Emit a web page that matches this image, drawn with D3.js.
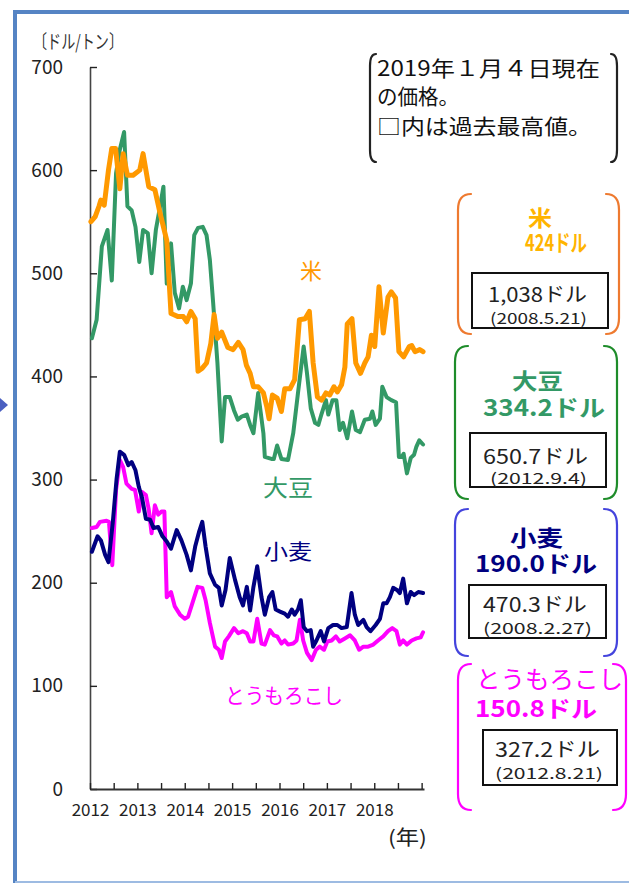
<!DOCTYPE html>
<html><head><meta charset="utf-8">
<script src="https://cdn.jsdelivr.net/npm/d3@7"></script>
<style>body{margin:0;background:#fff;overflow:hidden;} svg{display:block;}</style>
</head><body>
<svg id="c" width="629" height="883"></svg>
<script>
// ---------- data ----------
const yTicks = [0,100,200,300,400,500,600,700];
const xTickYears = [2012,2012.5,2013,2013.5,2014,2014.5,2015,2015.5,2016,2016.5,2017,2017.5,2018,2018.5,2019];
const xLabelYears = [2012,2013,2014,2015,2016,2017,2018];

const rice = [[2012.02,550],[2012.11,555],[2012.19,565],[2012.23,571],[2012.30,566],[2012.39,600],[2012.46,621],[2012.54,621],[2012.63,582],[2012.70,616],[2012.79,595],[2012.91,595],[2013.05,600],[2013.12,616],[2013.24,584],[2013.37,581],[2013.48,558],[2013.62,532],[2013.71,461],[2013.76,460],[2013.86,458],[2013.97,458],[2014.04,453],[2014.13,463],[2014.22,456],[2014.28,405],[2014.37,408],[2014.46,413],[2014.55,432],[2014.62,460],[2014.69,437],[2014.78,443],[2014.91,428],[2015.02,426],[2015.13,433],[2015.23,426],[2015.30,411],[2015.38,403],[2015.45,390],[2015.55,390],[2015.66,384],[2015.73,371],[2015.78,359],[2015.85,382],[2015.95,379],[2016.04,366],[2016.11,388],[2016.22,388],[2016.32,397],[2016.42,455],[2016.54,456],[2016.63,463],[2016.71,413],[2016.80,380],[2016.89,377],[2016.98,384],[2017.06,382],[2017.15,390],[2017.22,385],[2017.31,392],[2017.38,409],[2017.43,451],[2017.53,456],[2017.61,413],[2017.71,403],[2017.80,413],[2017.87,419],[2017.94,440],[2018.01,429],[2018.10,487],[2018.19,442],[2018.29,477],[2018.36,482],[2018.45,476],[2018.52,424],[2018.62,419],[2018.74,429],[2018.79,430],[2018.86,424],[2018.96,426],[2019.03,424]];

const soybean = [[2012.04,437],[2012.14,455],[2012.25,526],[2012.37,542],[2012.46,493],[2012.55,597],[2012.63,620],[2012.72,637],[2012.79,565],[2012.88,561],[2012.96,545],[2013.04,511],[2013.12,542],[2013.22,539],[2013.30,500],[2013.39,542],[2013.48,565],[2013.55,584],[2013.62,490],[2013.71,529],[2013.79,481],[2013.88,466],[2013.96,487],[2014.04,474],[2014.13,490],[2014.20,537],[2014.28,544],[2014.38,545],[2014.46,537],[2014.53,513],[2014.60,471],[2014.69,413],[2014.78,337],[2014.85,380],[2014.95,380],[2015.04,367],[2015.12,358],[2015.20,361],[2015.31,363],[2015.38,353],[2015.45,345],[2015.55,384],[2015.66,345],[2015.69,322],[2015.83,320],[2015.88,320],[2015.95,333],[2016.04,320],[2016.18,319],[2016.29,345],[2016.39,384],[2016.51,429],[2016.58,403],[2016.66,369],[2016.75,355],[2016.82,353],[2016.89,364],[2016.98,377],[2017.03,363],[2017.12,377],[2017.20,377],[2017.27,348],[2017.34,355],[2017.43,340],[2017.53,366],[2017.61,348],[2017.70,346],[2017.80,358],[2017.91,359],[2017.96,366],[2018.03,353],[2018.12,359],[2018.17,390],[2018.26,380],[2018.36,377],[2018.46,375],[2018.52,322],[2018.58,322],[2018.62,325],[2018.69,306],[2018.77,321],[2018.84,324],[2018.89,332],[2018.95,338],[2019.03,334]];

const wheat = [[2012.04,230],[2012.16,245],[2012.23,241],[2012.32,227],[2012.39,220],[2012.48,258],[2012.56,300],[2012.63,327],[2012.72,324],[2012.81,314],[2012.88,317],[2012.96,309],[2013.03,293],[2013.10,282],[2013.18,262],[2013.27,261],[2013.34,253],[2013.44,254],[2013.53,245],[2013.62,240],[2013.71,233],[2013.83,251],[2013.93,241],[2014.04,227],[2014.13,212],[2014.22,235],[2014.30,249],[2014.37,259],[2014.44,235],[2014.53,209],[2014.64,198],[2014.72,195],[2014.78,178],[2014.86,193],[2014.95,224],[2015.06,203],[2015.16,186],[2015.23,178],[2015.31,196],[2015.38,173],[2015.45,196],[2015.53,216],[2015.62,186],[2015.69,169],[2015.78,186],[2015.85,191],[2015.92,174],[2016.01,172],[2016.11,170],[2016.18,167],[2016.26,174],[2016.32,169],[2016.39,174],[2016.45,183],[2016.51,157],[2016.58,153],[2016.66,154],[2016.71,138],[2016.78,144],[2016.87,153],[2016.94,143],[2017.03,156],[2017.13,159],[2017.22,159],[2017.31,156],[2017.42,157],[2017.52,190],[2017.59,169],[2017.66,159],[2017.77,164],[2017.84,157],[2017.92,153],[2018.03,159],[2018.12,165],[2018.19,180],[2018.26,180],[2018.33,186],[2018.40,195],[2018.48,193],[2018.54,190],[2018.61,204],[2018.69,180],[2018.77,191],[2018.84,188],[2018.93,191],[2019.03,190]];

const corn = [[2012.04,253],[2012.14,254],[2012.21,259],[2012.35,260],[2012.40,259],[2012.47,217],[2012.55,290],[2012.63,319],[2012.70,312],[2012.77,296],[2012.88,291],[2012.95,290],[2013.03,269],[2013.10,288],[2013.18,285],[2013.24,271],[2013.30,248],[2013.37,275],[2013.44,266],[2013.51,269],[2013.57,269],[2013.62,186],[2013.71,191],[2013.79,177],[2013.90,169],[2014.00,165],[2014.07,167],[2014.16,180],[2014.27,196],[2014.37,195],[2014.44,183],[2014.53,161],[2014.64,138],[2014.72,135],[2014.78,127],[2014.85,143],[2014.93,148],[2015.04,156],[2015.13,151],[2015.23,153],[2015.31,151],[2015.38,143],[2015.45,143],[2015.53,165],[2015.62,141],[2015.69,140],[2015.80,154],[2015.88,149],[2015.95,148],[2016.04,141],[2016.11,144],[2016.18,140],[2016.29,141],[2016.36,144],[2016.43,164],[2016.50,144],[2016.58,132],[2016.68,125],[2016.77,135],[2016.85,138],[2016.94,135],[2017.01,143],[2017.10,144],[2017.19,148],[2017.27,143],[2017.38,146],[2017.49,149],[2017.59,144],[2017.68,135],[2017.77,138],[2017.87,138],[2017.98,140],[2018.08,144],[2018.19,148],[2018.29,153],[2018.38,156],[2018.47,153],[2018.54,140],[2018.61,144],[2018.69,140],[2018.79,144],[2018.89,146],[2018.98,147],[2019.03,152]];

const noteLines = ["2019年１月４日現在","の価格。","□内は過去最高値。"];
const crops = ["米","大豆","小麦","とうもろこし"];
const currentPrices = ["424ドル","334.2ドル","190.0ドル","150.8ドル"];
const recordPrices = ["1,038ドル","650.7ドル","470.3ドル","327.2ドル"];
const recordDates = ["(2008.5.21)","(2012.9.4)","(2008.2.27)","(2012.8.21)"];

// ---------- drawing ----------
const FONT = "'Noto Sans CJK JP','Noto Sans',sans-serif";
const svg = d3.select("#c");

// page frame
svg.append("line").attr("x1",15).attr("y1",12).attr("x2",629).attr("y2",12).attr("stroke","#5584C4").attr("stroke-width",4);
svg.append("line").attr("x1",15).attr("y1",10).attr("x2",15).attr("y2",883).attr("stroke","#5584C4").attr("stroke-width",4);
svg.append("line").attr("x1",15).attr("y1",882).attr("x2",629).attr("y2",882).attr("stroke","#9DBBE2").attr("stroke-width",2);
svg.append("path").attr("d","M0,398L8,405L0,412Z").attr("fill","#4A5FC0");

const x = d3.scaleLinear().domain([2012,2019.05]).range([90,424]);
const y = d3.scaleLinear().domain([0,700]).range([789,67]);

// y axis
const gy = svg.append("g").attr("transform","translate(90,0)")
  .call(d3.axisLeft(y).tickValues(yTicks).tickSizeInner(-7).tickSizeOuter(0).tickPadding(27));
gy.select(".domain").attr("stroke","#444").attr("stroke-width",1.6);
gy.selectAll(".tick line").attr("stroke","#222").attr("stroke-width",1.4);
gy.selectAll(".tick text").attr("font-family",FONT).attr("font-size",19).attr("fill","#222");

// x axis
const gx = svg.append("g").attr("transform","translate(0,789)")
  .call(d3.axisBottom(x).tickValues(xTickYears).tickSizeInner(-6).tickSizeOuter(0).tickPadding(15)
    .tickFormat(d => xLabelYears.includes(d) ? String(d) : ""));
gx.select(".domain").attr("stroke","#333").attr("stroke-width",1.8);
gx.selectAll(".tick line").attr("stroke","#222").attr("stroke-width",1.4);
gx.selectAll(".tick text").attr("font-family",FONT).attr("font-size",17).attr("fill","#222");

svg.append("text").attr("x",33).attr("y",49).attr("font-family",FONT).attr("font-size",19)
  .attr("fill","#333").attr("textLength",90).attr("lengthAdjust","spacingAndGlyphs").text("〔ドル/トン〕");
svg.append("text").attr("x",388).attr("y",845).attr("font-family",FONT).attr("font-size",20)
  .attr("fill","#222").attr("textLength",39).attr("lengthAdjust","spacingAndGlyphs").text("(年)");

// series
const line = d3.line().x(d => x(d[0])).y(d => y(d[1]));
const series = [
  {data: soybean, color: "#339966", w: 4},
  {data: rice, color: "#FF9900", w: 5},
  {data: corn, color: "#FF00FF", w: 4},
  {data: wheat, color: "#000080", w: 4}
];
svg.selectAll("path.series").data(series).join("path").attr("class","series")
  .attr("d", d => line(d.data)).attr("fill","none").attr("stroke", d => d.color)
  .attr("stroke-width", d => d.w).attr("stroke-linejoin","round").attr("stroke-linecap","round");

// in-plot labels
const inLabels = [
  {t: crops[0], x: 300, y: 279, len: 22, size: 22, c: "#FF9900"},
  {t: crops[1], x: 263, y: 496, len: 50, size: 23, c: "#339966"},
  {t: crops[2], x: 264, y: 559, len: 48, size: 21, c: "#000080"},
  {t: crops[3], x: 225, y: 703, len: 118, size: 21, c: "#FF00FF"}
];
svg.selectAll("text.inl").data(inLabels).join("text").attr("class","inl")
  .attr("x", d => d.x).attr("y", d => d.y).attr("font-family",FONT).attr("font-size", d => d.size)
  .attr("fill", d => d.c).attr("textLength", d => d.len).attr("lengthAdjust","spacingAndGlyphs").text(d => d.t);

// bracket helper
function bracket(x0, x1, y0, y1, color, rx, ry, w) {
  const g = svg.append("g").attr("fill","none").attr("stroke",color).attr("stroke-width",w).attr("stroke-linecap","round");
  g.append("path").attr("d",`M${x0+rx},${y0}Q${x0},${y0} ${x0},${y0+ry}L${x0},${y1-ry}Q${x0},${y1} ${x0+rx},${y1}`);
  g.append("path").attr("d",`M${x1-rx},${y0}Q${x1},${y0} ${x1},${y0+ry}L${x1},${y1-ry}Q${x1},${y1} ${x1-rx},${y1}`);
}

// note
bracket(370, 617, 54, 162, "#222", 6, 12, 2.2);
const noteSpec = [{y:76,len:223},{y:104,len:82},{y:134,len:215}];
const note = svg.append("text").attr("font-family",FONT).attr("font-size",21).attr("fill","#111");
noteLines.forEach((t,i) => {
  note.append("tspan").attr("x",377).attr("y",noteSpec[i].y)
    .attr("textLength",noteSpec[i].len).attr("lengthAdjust","spacingAndGlyphs").text(t);
});

// price boxes
const boxes = [
  {br:[458,619,194,334], bc:"#EE7A30", tc:"#FFB400",
   title:{x:528,y:226,len:24,size:22,bold:true}, cur:{x:525,y:251,len:62},
   rect:[472,273,136,55], rec:{x:488,y:302,len:99}, date:{x:490,y:324,len:97}},
  {br:[455,617,346,499], bc:"#1E8C2A", tc:"#339966",
   title:{x:512,y:389,len:51,size:22,bold:true}, cur:{x:483,y:416,len:122},
   rect:[470,433,136,54], rec:{x:483,y:464,len:105}, date:{x:490,y:484,len:97}},
  {br:[455,617,509,656], bc:"#4444DD", tc:"#000080",
   title:{x:510,y:546,len:53,size:22,bold:true}, cur:{x:475,y:572,len:122},
   rect:[469,585,137,53], rec:{x:483,y:612,len:104}, date:{x:483,y:634,len:109}},
  {br:[458,626,664,810], bc:"#FF00FF", tc:"#FF00FF",
   title:{x:476,y:688,len:147,size:24,bold:false}, cur:{x:475,y:717,len:122},
   rect:[483,730,134,55], rec:{x:495,y:757,len:105}, date:{x:495,y:779,len:108}}
];
boxes.forEach((b,i) => {
  bracket(b.br[0], b.br[1], b.br[2], b.br[3], b.bc, 13, 16, 2.2);
  const t = svg.append("text").attr("font-family",FONT).attr("fill",b.tc);
  t.append("tspan").attr("x",b.title.x).attr("y",b.title.y)
    .attr("font-size",b.title.size).attr("font-weight",b.title.bold?"bold":"normal")
    .attr("textLength",b.title.len).attr("lengthAdjust","spacingAndGlyphs").text(crops[i]);
  t.append("tspan").attr("x",b.cur.x).attr("y",b.cur.y)
    .attr("font-size",23).attr("font-weight","bold")
    .attr("textLength",b.cur.len).attr("lengthAdjust","spacingAndGlyphs").text(currentPrices[i]);
  svg.append("rect").attr("x",b.rect[0]).attr("y",b.rect[1]).attr("width",b.rect[2]).attr("height",b.rect[3])
    .attr("fill","#fff").attr("stroke","#111").attr("stroke-width",2);
  const r = svg.append("text").attr("font-family",FONT).attr("fill","#222");
  r.append("tspan").attr("x",b.rec.x).attr("y",b.rec.y).attr("font-size",20)
    .attr("textLength",b.rec.len).attr("lengthAdjust","spacingAndGlyphs").text(recordPrices[i]);
  r.append("tspan").attr("x",b.date.x).attr("y",b.date.y).attr("font-size",15)
    .attr("textLength",b.date.len).attr("lengthAdjust","spacingAndGlyphs").text(recordDates[i]);
});
</script>
</body></html>
